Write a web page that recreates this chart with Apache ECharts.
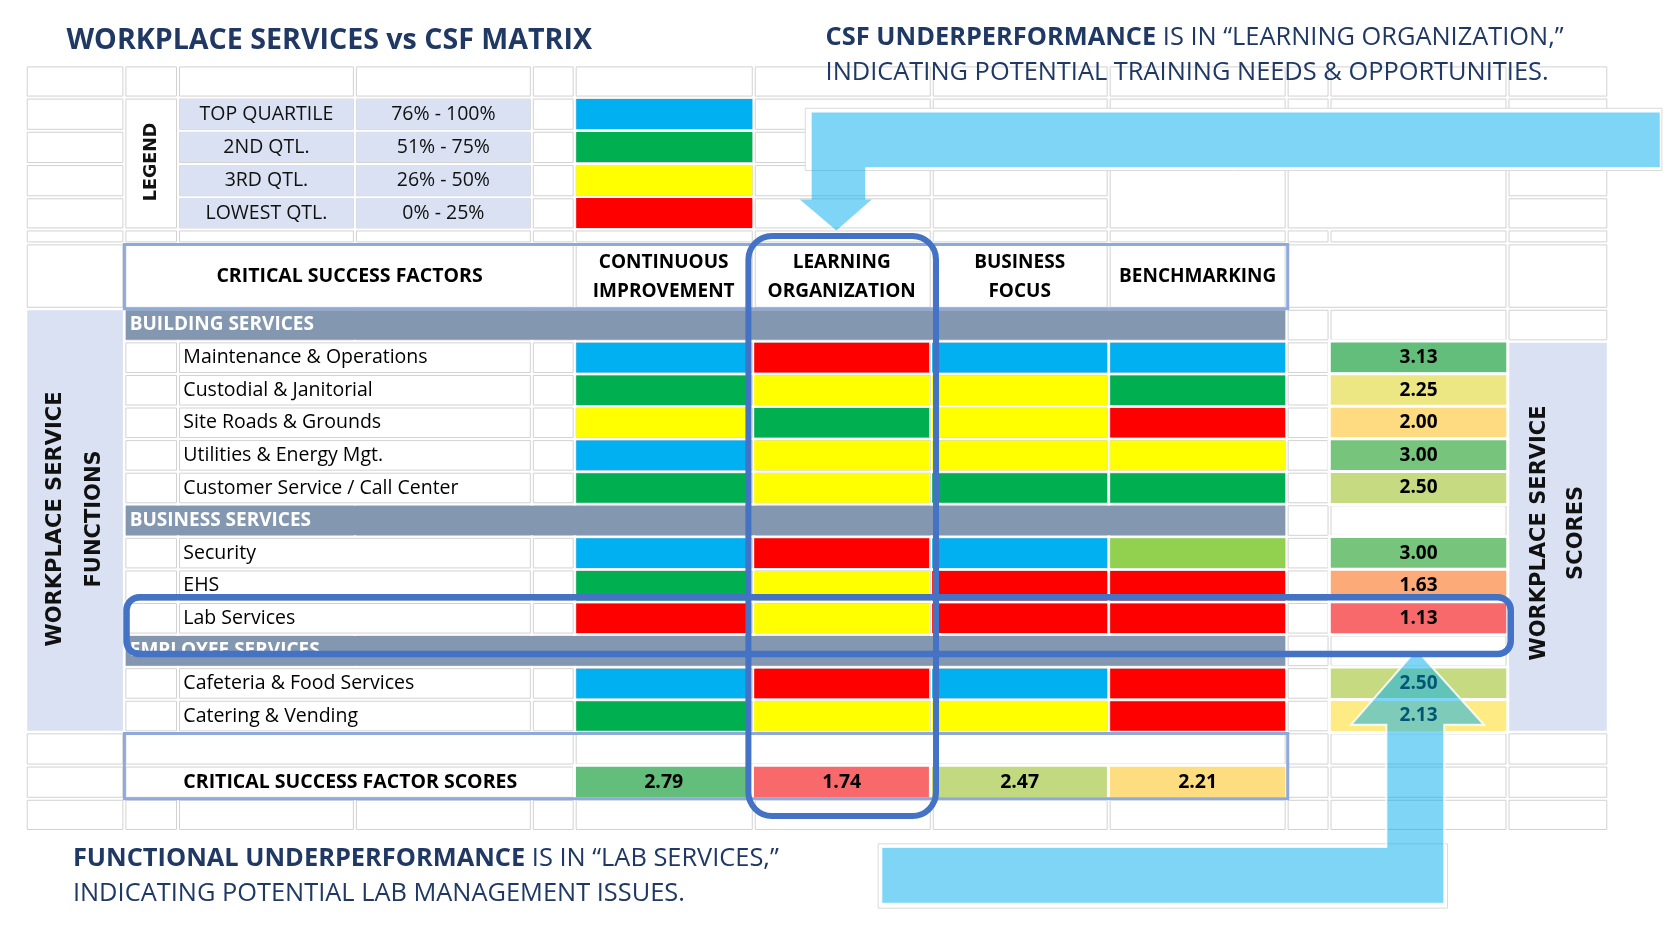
<!DOCTYPE html>
<html><head><meta charset="utf-8">
<script src="https://cdn.jsdelivr.net/npm/echarts@6/dist/echarts.min.js"></script>
<style>html,body{margin:0;padding:0;background:#fff}#c{width:1678px;height:930px}</style>
</head><body><div id="c"></div><script>
// ---------------- DATA ----------------
const CSF_FACTORS = ['CONTINUOUS\nIMPROVEMENT', 'LEARNING\nORGANIZATION', 'BUSINESS\nFOCUS', 'BENCHMARKING'];
const ROW_LABELS = [
  'BUILDING SERVICES',
  'Maintenance & Operations', 'Custodial & Janitorial', 'Site Roads & Grounds',
  'Utilities & Energy Mgt.', 'Customer Service / Call Center',
  'BUSINESS SERVICES',
  'Security', 'EHS', 'Lab Services',
  'EMPLOYEE SERVICES',
  'Cafeteria & Food Services', 'Catering & Vending'
];
const GROUP_ROWS = ['BUILDING SERVICES', 'BUSINESS SERVICES', 'EMPLOYEE SERVICES'];
// quartile code per function row: CI, LO, BF, BM  (T=top, 2=2nd, 2b=2nd light, 3=3rd, L=lowest)
const MATRIX = [
  null,
  ['T', 'L', 'T', 'T'],
  ['2', '3', '3', '2'],
  ['3', '2', '3', 'L'],
  ['T', '3', '3', '3'],
  ['2', '3', '2', '2'],
  null,
  ['T', 'L', 'T', '2b'],
  ['2', '3', 'L', 'L'],
  ['L', '3', 'L', 'L'],
  null,
  ['T', 'L', 'T', 'L'],
  ['2', '3', '3', 'L']
];
const SERVICE_SCORES = [null, 3.13, 2.25, 2.00, 3.00, 2.50, null, 3.00, 1.63, 1.13, null, 2.50, 2.13];
const CSF_SCORES = [2.79, 1.74, 2.47, 2.21];
const LEGEND_NAMES = ['TOP QUARTILE', '2ND QTL.', '3RD QTL.', 'LOWEST QTL.'];
const LEGEND_RANGES = ['76% - 100%', '51% - 75%', '26% - 50%', '0% - 25%'];
const LEGEND_CODES = ['T', '2', '3', 'L'];
const CSF_SCORE_LABEL = ['CRITICAL SUCCESS FACTOR SCORES'];

// ---------------- STYLE / LAYOUT ----------------
const S = 1678 / 1565;
const P = v => v * S;
const FONT = "'Open Sans', sans-serif";
const FONT_WIDE = "'DejaVu Sans', sans-serif";
const NAVY = '#1F3864';
const QCOLOR = { T: '#00B0F0', '2': '#00B050', '2b': '#92D050', '3': '#FFFF00', L: '#FF0000' };
const LAV = '#D9E1F2';
const HEAD_GRAY = '#8497B0';
const COLS = [24, 116, 166, 331, 496, 536, 703, 869, 1034, 1200, 1240, 1406, 1500];
const ROWS_Y = [61, 91, 122, 153, 184, 214, 227, 288];
for (let i = 1; i <= 13; i++) ROWS_Y.push(288 + i * (683 - 288) / 13);
ROWS_Y.push(714, 745, 775);

function gridRect(c0, c1, r0, r1) {
  return { left: P(COLS[c0]), top: P(ROWS_Y[r0]), width: P(COLS[c1] - COLS[c0]), height: P(ROWS_Y[r1] - ROWS_Y[r0]) };
}

// background spreadsheet cells
const merges = [
  [0, 0, 7, 19, 'lav'], [11, 11, 8, 19, 'lav'],
  [1, 1, 1, 4], [1, 4, 6, 6], [9, 10, 6, 6],
  [1, 4, 20, 20], [5, 8, 20, 20], [1, 4, 21, 21],
  [8, 8, 3, 4], [9, 10, 3, 4]
];
[8, 9, 10, 11, 12, 14, 15, 16, 18, 19].forEach(r => merges.push([2, 3, r, r]));
const covered = {};
const bg = [];
function cellRect(c0, c1, r0, r1, lav) {
  const x = P(COLS[c0]) + 1.5, y = P(ROWS_Y[r0]) + 1.5;
  const w = P(COLS[c1 + 1] - COLS[c0]) - 3, h = P(ROWS_Y[r1 + 1] - ROWS_Y[r0]) - 3;
  return {
    type: 'rect', z: 0, silent: true,
    shape: { x, y, width: w, height: h },
    style: lav ? { fill: LAV } : { fill: '#fff', stroke: '#D2D2D2', lineWidth: 1 }
  };
}
merges.forEach(m => {
  for (let c = m[0]; c <= m[1]; c++) for (let r = m[2]; r <= m[3]; r++) covered[c + '_' + r] = 1;
  bg.push(cellRect(m[0], m[1], m[2], m[3], m[4] === 'lav'));
});
for (let c = 0; c < 12; c++) for (let r = 0; r < 23; r++) {
  if (!covered[c + '_' + r]) bg.push(cellRect(c, c, r, r, false));
}

const ARROW_FILL = 'rgba(0,172,238,0.5)';
const pts = a => a.map(p => [P(p[0]), P(p[1])]);
const ANN = 25.4;

const overlay = [
  // top arrow image box
  { type: 'rect', z: 1, shape: { x: P(751), y: P(101), width: P(799), height: P(58) }, style: { fill: '#fff', stroke: '#DADADA', lineWidth: 1 } },
  { type: 'polygon', z: 100, shape: { points: pts([[757, 105], [1548, 105], [1548, 156], [807, 156], [807, 186], [813, 186], [780, 215], [746, 186], [757, 186]]) }, style: { fill: ARROW_FILL } },
  // bottom arrow
  { type: 'rect', z: 1, shape: { x: P(819), y: P(787), width: P(531), height: P(60) }, style: { fill: '#fff', stroke: '#DADADA', lineWidth: 1 } },
  { type: 'polygon', z: 100, shape: { points: pts([[822, 790], [1293, 790], [1293, 676], [1260, 676], [1321, 606], [1384, 676], [1347, 676], [1347, 843], [822, 843]]) }, style: { fill: ARROW_FILL, stroke: 'rgba(255,255,255,0.85)', lineWidth: 2 } },
  // light header boxes
  { type: 'rect', z: 90, shape: { x: P(116), y: P(228), width: P(1085), height: P(60) }, style: { fill: 'none', stroke: '#8EA9DB', lineWidth: 3 } },
  { type: 'rect', z: 90, shape: { x: P(116), y: P(684), width: P(1085), height: P(61) }, style: { fill: 'none', stroke: '#8EA9DB', lineWidth: 3 } },
  // highlight outlines
  { type: 'rect', z: 100, shape: { x: P(698), y: P(220), width: P(175), height: P(541), r: P(22) }, style: { fill: 'none', stroke: '#4472C4', lineWidth: 6 } },
  { type: 'rect', z: 100, shape: { x: P(118), y: P(557), width: P(1291), height: P(53), r: P(12) }, style: { fill: 'none', stroke: '#4472C4', lineWidth: 6.5 } },
  // texts
  { type: 'text', z: 50, x: P(62), y: P(38), style: { text: 'WORKPLACE SERVICES vs CSF MATRIX', fontFamily: FONT, fontWeight: 'bold', fontSize: 28.6, fill: NAVY, verticalAlign: 'middle' } },
  { type: 'text', z: 50, x: P(770), y: P(35), style: { text: '{b|CSF UNDERPERFORMANCE} IS IN “LEARNING ORGANIZATION,”', fontFamily: FONT, fontSize: ANN, fill: NAVY, verticalAlign: 'middle', rich: { b: { fontFamily: FONT, fontWeight: 'bold', fontSize: ANN, fill: NAVY } } } },
  { type: 'text', z: 50, x: P(770), y: P(68), style: { text: 'INDICATING POTENTIAL TRAINING NEEDS & OPPORTUNITIES.', fontFamily: FONT, fontSize: ANN, fill: NAVY, verticalAlign: 'middle' } },
  { type: 'text', z: 50, x: P(68), y: P(801), style: { text: '{b|FUNCTIONAL UNDERPERFORMANCE} IS IN “LAB SERVICES,”', fontFamily: FONT, fontSize: ANN, fill: NAVY, verticalAlign: 'middle', rich: { b: { fontFamily: FONT, fontWeight: 'bold', fontSize: ANN, fill: NAVY } } } },
  { type: 'text', z: 50, x: P(68), y: P(834), style: { text: 'INDICATING POTENTIAL LAB MANAGEMENT ISSUES.', fontFamily: FONT, fontSize: ANN, fill: NAVY, verticalAlign: 'middle' } },
  { type: 'text', z: 50, x: P(326), y: P(258), style: { text: 'CRITICAL SUCCESS FACTORS', fontFamily: FONT, fontWeight: 'bold', fontSize: 19.5, fill: '#000', align: 'center', verticalAlign: 'middle' } },
  { type: 'text', z: 50, x: P(141), y: P(151), rotation: Math.PI / 2, style: { text: 'LEGEND', fontFamily: FONT_WIDE, fontWeight: 'bold', fontSize: 17.5, fill: '#111', align: 'center', verticalAlign: 'middle' } },
  { type: 'text', z: 50, x: P(70), y: P(484), rotation: Math.PI / 2, style: { text: 'WORKPLACE SERVICE\nFUNCTIONS', fontFamily: FONT_WIDE, fontWeight: 'bold', fontSize: 21, lineHeight: P(36), fill: '#111', align: 'center', verticalAlign: 'middle' } },
  { type: 'text', z: 50, x: P(1453), y: P(497), rotation: Math.PI / 2, style: { text: 'WORKPLACE SERVICE\nSCORES', fontFamily: FONT_WIDE, fontWeight: 'bold', fontSize: 21, lineHeight: P(35), fill: '#111', align: 'center', verticalAlign: 'middle' } }
];

// ---------------- SERIES DATA ----------------
const legendCells = [];
LEGEND_NAMES.forEach((n, i) => { legendCells.push([0, i]); legendCells.push([1, i]); });
const legendSw = LEGEND_CODES.map((c, i) => [0, i]);
const matrixCells = [];
MATRIX.forEach((row, r) => { if (row) row.forEach((code, c) => matrixCells.push([c, r])); });
const groupCells = ROW_LABELS.map((l, r) => GROUP_ROWS.includes(l) ? [0, r] : null).filter(Boolean);
const scoreCells = SERVICE_SCORES.map((v, r) => v == null ? null : [0, r, v]).filter(Boolean);
const csfCells = CSF_SCORES.map((v, c) => [c, 0, v]);

function inset(api, x, y, g) {
  const c = api.coord([x, y]), s = api.size([1, 1]);
  return { x: c[0] - s[0] / 2 + g, y: c[1] - s[1] / 2 + g, width: s[0] - 2 * g, height: s[1] - 2 * g, cx: c[0], cy: c[1] };
}

const hidden = { show: false };
const baseCat = (gi, data, extra) => Object.assign({ gridIndex: gi, type: 'category', data, axisLine: hidden, axisTick: hidden, axisLabel: hidden, splitLine: hidden }, extra || {});

const option = {
  animation: false,
  backgroundColor: '#fff',
  grid: [
    gridRect(2, 4, 1, 5),
    gridRect(5, 6, 1, 5),
    gridRect(5, 9, 7, 20),
    gridRect(10, 11, 7, 20),
    gridRect(5, 9, 21, 22)
  ],
  xAxis: [
    baseCat(0, ['QUARTILE', 'RANGE']),
    baseCat(1, ['COLOR']),
    baseCat(2, CSF_FACTORS, {
      position: 'top', z: 5,
      axisLabel: { show: true, interval: 0, margin: P(30), verticalAlign: 'middle', fontFamily: FONT, fontWeight: 'bold', fontSize: 19, lineHeight: P(27), color: '#000' }
    }),
    baseCat(3, ['SCORE']),
    baseCat(4, CSF_FACTORS)
  ],
  yAxis: [
    baseCat(0, LEGEND_NAMES, { inverse: true }),
    baseCat(1, LEGEND_NAMES, { inverse: true }),
    baseCat(2, ROW_LABELS, {
      inverse: true, z: 5,
      axisLabel: {
        show: true, interval: 0, align: 'left', margin: P(536 - 121),
        formatter: v => GROUP_ROWS.includes(v) ? '{g|' + v + '}' : '{f|' + v + '}',
        rich: {
          g: { color: '#fff', fontWeight: 'bold', fontSize: 19, fontFamily: FONT },
          f: { color: '#000', fontSize: 19.5, fontFamily: FONT, padding: [0, 0, 0, P(50)] }
        }
      }
    }),
    baseCat(3, ROW_LABELS, { inverse: true }),
    baseCat(4, CSF_SCORE_LABEL, {
      inverse: true, z: 5,
      axisLabel: { show: true, interval: 0, align: 'left', margin: P(536 - 171), fontFamily: FONT, fontWeight: 'bold', fontSize: 19.5, color: '#000' }
    })
  ],
  visualMap: [
    { type: 'continuous', show: false, seriesIndex: 4, dimension: 2, min: Math.min(...scoreCells.map(d => d[2])), max: Math.max(...scoreCells.map(d => d[2])), inRange: { color: ['#F8696B', '#FFEB84', '#63BE7B'] } },
    { type: 'continuous', show: false, seriesIndex: 5, dimension: 2, min: Math.min(...CSF_SCORES), max: Math.max(...CSF_SCORES), inRange: { color: ['#F8696B', '#FFEB84', '#63BE7B'] } }
  ],
  series: [
    {
      type: 'custom', xAxisIndex: 0, yAxisIndex: 0, data: legendCells, silent: true,
      renderItem: (params, api) => {
        const x = api.value(0), y = api.value(1);
        const r = inset(api, x, y, 1.5);
        return {
          type: 'group', children: [
            { type: 'rect', shape: { x: r.x, y: r.y, width: r.width, height: r.height }, style: { fill: LAV } },
            { type: 'text', style: { text: x === 0 ? LEGEND_NAMES[y] : LEGEND_RANGES[y], x: r.cx, y: r.cy, align: 'center', verticalAlign: 'middle', fontFamily: FONT, fontSize: 19.5, fill: '#111' } }
          ]
        };
      }
    },
    {
      type: 'custom', xAxisIndex: 1, yAxisIndex: 1, data: legendSw, silent: true,
      renderItem: (params, api) => {
        const y = api.value(1);
        const r = inset(api, 0, y, 1.5);
        return { type: 'rect', shape: { x: r.x, y: r.y, width: r.width, height: r.height }, style: { fill: QCOLOR[LEGEND_CODES[y]] } };
      }
    },
    {
      type: 'custom', xAxisIndex: 2, yAxisIndex: 2, data: matrixCells, silent: true,
      renderItem: (params, api) => {
        const x = api.value(0), y = api.value(1);
        const r = inset(api, x, y, 1.5);
        return { type: 'rect', shape: { x: r.x, y: r.y, width: r.width, height: r.height }, style: { fill: QCOLOR[MATRIX[y][x]] } };
      }
    },
    {
      type: 'custom', xAxisIndex: 2, yAxisIndex: 2, data: groupCells, silent: true,
      renderItem: (params, api) => {
        const y = api.value(1);
        const r = inset(api, 0, y, 1.5);
        const cs = params.coordSys;
        const x0 = P(COLS[1]) + 1.5;
        return { type: 'rect', shape: { x: x0, y: r.y, width: cs.x + cs.width - 1.5 - x0, height: r.height }, style: { fill: HEAD_GRAY } };
      }
    },
    {
      type: 'heatmap', xAxisIndex: 3, yAxisIndex: 3, data: scoreCells, silent: true,
      itemStyle: { borderColor: '#fff', borderWidth: 3 },
      label: { show: true, formatter: p => p.value[2].toFixed(2), fontFamily: FONT, fontWeight: 'bold', fontSize: 19, color: '#000' }
    },
    {
      type: 'heatmap', xAxisIndex: 4, yAxisIndex: 4, data: csfCells, silent: true,
      itemStyle: { borderColor: '#fff', borderWidth: 3 },
      label: { show: true, formatter: p => p.value[2].toFixed(2), fontFamily: FONT, fontWeight: 'bold', fontSize: 19.5, color: '#000' }
    }
  ],
  graphic: { elements: bg.concat(overlay) }
};

const chart = echarts.init(document.getElementById('c'));
chart.setOption(option);
</script></body></html>
